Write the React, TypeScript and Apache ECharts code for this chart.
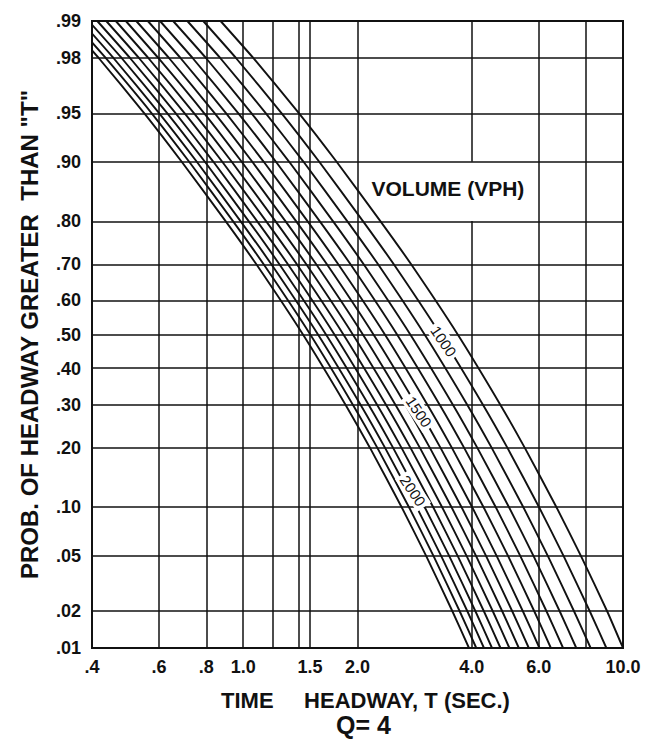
import React, { useEffect, useRef } from "react";
import * as echarts from "echarts";

// Probability levels (P of headway greater than T) at which each curve was read
const probLevels = [0.99, 0.98, 0.95, 0.9, 0.8, 0.7, 0.5, 0.3, 0.2, 0.1, 0.05, 0.02, 0.01];

// Time headway T (sec) at the probability levels above
const volumes = [900, 1000, 1100, 1200, 1300, 1400, 1500, 1600, 1700, 1800, 1900, 2000, 2100, 2200, 2300];
const h900 = [0.872, 1.062, 1.4, 1.762, 2.297, 2.763, 3.672, 4.762, 5.515, 6.681, 7.754, 9.084, 10.0];
const h1000 = [0.785, 0.956, 1.26, 1.586, 2.067, 2.487, 3.305, 4.286, 4.964, 6.013, 6.979, 8.176, 9.041];
const h1100 = [0.713, 0.869, 1.145, 1.442, 1.879, 2.261, 3.004, 3.896, 4.512, 5.466, 6.344, 7.432, 8.219];
const h1200 = [0.654, 0.797, 1.05, 1.322, 1.723, 2.072, 2.754, 3.572, 4.136, 5.011, 5.816, 6.813, 7.534];
const h1300 = [0.604, 0.735, 0.969, 1.22, 1.59, 1.913, 2.542, 3.297, 3.818, 4.625, 5.368, 6.289, 6.954];
const h1400 = [0.561, 0.683, 0.9, 1.133, 1.477, 1.776, 2.361, 3.061, 3.545, 4.295, 4.985, 5.84, 6.458];
const h1500 = [0.523, 0.637, 0.84, 1.057, 1.378, 1.658, 2.203, 2.857, 3.309, 4.009, 4.652, 5.45, 6.027];
const h1600 = [0.491, 0.597, 0.788, 0.991, 1.292, 1.554, 2.066, 2.679, 3.102, 3.758, 4.362, 5.11, 5.65];
const h1700 = [0.462, 0.562, 0.741, 0.933, 1.216, 1.463, 1.944, 2.521, 2.92, 3.537, 4.105, 4.809, 5.318];
const h1800 = [0.436, 0.531, 0.7, 0.881, 1.149, 1.382, 1.836, 2.381, 2.758, 3.341, 3.877, 4.542, 5.023];
const h1900 = [0.413, 0.503, 0.663, 0.835, 1.088, 1.309, 1.739, 2.256, 2.612, 3.165, 3.673, 4.303, 4.758];
const h2000 = [0.392, 0.478, 0.63, 0.793, 1.034, 1.243, 1.652, 2.143, 2.482, 3.006, 3.489, 4.088, 4.52];
const h2100 = [0.374, 0.455, 0.6, 0.755, 0.984, 1.184, 1.574, 2.041, 2.364, 2.863, 3.323, 3.893, 4.305];
const h2200 = [0.357, 0.434, 0.573, 0.721, 0.94, 1.13, 1.502, 1.948, 2.256, 2.733, 3.172, 3.716, 4.109];
const h2300 = [0.341, 0.416, 0.548, 0.689, 0.899, 1.081, 1.437, 1.863, 2.158, 2.614, 3.034, 3.555, 3.931];
const headways = [h900, h1000, h1100, h1200, h1300, h1400, h1500, h1600, h1700, h1800, h1900, h2000, h2100, h2200, h2300];

// Axis ticks and grid
const xTickValues = [0.4, 0.6, 0.8, 1.0, 1.5, 2.0, 4.0, 6.0, 10.0];
const xTickLabels = [".4", ".6", ".8", "1.0", "1.5", "2.0", "4.0", "6.0", "10.0"];
const xGridValues = [0.6, 0.8, 1.0, 1.2, 1.4, 1.5, 2.0, 6.0, 8.0];
const yTickValues = [0.99, 0.98, 0.95, 0.9, 0.8, 0.7, 0.6, 0.5, 0.4, 0.3, 0.2, 0.1, 0.05, 0.02, 0.01];
const yTickLabels = [".99", ".98", ".95", ".90", ".80", ".70", ".60", ".50", ".40", ".30", ".20", ".10", ".05", ".02", ".01"];
const yGridValues = [0.98, 0.95, 0.9, 0.8, 0.7, 0.6, 0.5, 0.4, 0.3, 0.2, 0.1, 0.05, 0.02];

// In-line curve labels
const curveLabelText = ["1000", "1500", "2000"];
const curveLabelT = [3.37, 2.9, 2.8];
const curveLabelP = [0.48, 0.283, 0.123];

const FONT = "'Liberation Sans', Arial, sans-serif";
const INK = "#111";

// inverse standard normal CDF (probability paper scale)
function probit(p: number): number {
  const a = [-3.969683028665376e1, 2.209460984245205e2, -2.759285104469687e2, 1.38357751867269e2, -3.066479806614716e1, 2.506628277459239];
  const b = [-5.447609879822406e1, 1.615858368580409e2, -1.556989798598866e2, 6.680131188771972e1, -1.328068155288572e1];
  const c = [-7.784894002430293e-3, -3.223964580411365e-1, -2.400758277161838, -2.549732539343734, 4.374664141464968, 2.938163982698783];
  const d = [7.784695709041462e-3, 3.224671290700398e-1, 2.445134137142996, 3.754408661907416];
  const pl = 0.02425;
  if (p < pl) {
    const q = Math.sqrt(-2 * Math.log(p));
    return (((((c[0] * q + c[1]) * q + c[2]) * q + c[3]) * q + c[4]) * q + c[5]) / ((((d[0] * q + d[1]) * q + d[2]) * q + d[3]) * q + 1);
  }
  if (p <= 1 - pl) {
    const q = p - 0.5;
    const r = q * q;
    return ((((((a[0] * r + a[1]) * r + a[2]) * r + a[3]) * r + a[4]) * r + a[5]) * q) / (((((b[0] * r + b[1]) * r + b[2]) * r + b[3]) * r + b[4]) * r + 1);
  }
  const q = Math.sqrt(-2 * Math.log(1 - p));
  return -(((((c[0] * q + c[1]) * q + c[2]) * q + c[3]) * q + c[4]) * q + c[5]) / ((((d[0] * q + d[1]) * q + d[2]) * q + d[3]) * q + 1);
}

const Y_MIN = probit(0.01);
const Y_MAX = probit(0.99);

function nearestLabel(v: number, values: number[], labels: string[], tf: (x: number) => number) {
  let best = 0;
  let bd = Infinity;
  values.forEach((val, i) => {
    const dd = Math.abs(tf(val) - v);
    if (dd < bd) {
      bd = dd;
      best = i;
    }
  });
  return labels[best];
}

export default function App() {
  const ref = useRef<HTMLDivElement>(null);
  useEffect(() => {
    if (!ref.current) return;
    const chart = echarts.init(ref.current, undefined, { renderer: "svg" });

    const curveSeries = headways.map((h, k) => ({
      type: "line",
      name: String(volumes[k]),
      data: probLevels.map((p, i) => [h[i], probit(p)]),
      symbol: "none",
      showSymbol: false,
      smooth: 0.15,
      clip: true,
      silent: true,
      z: 3,
      lineStyle: { color: INK, width: 1.9 },
    }));

    const option: any = {
      animation: false,
      backgroundColor: "#fff",
      title: [
        {
          text: "TIME     HEADWAY, T (SEC.)",
          left: 216,
          top: 684,
          textStyle: { fontFamily: FONT, fontSize: 22, fontWeight: "bold", color: INK },
        },
        {
          text: "Q= 4",
          left: 331,
          top: 707,
          textStyle: { fontFamily: FONT, fontSize: 25, fontWeight: "bold", color: INK },
        },
      ],
      grid: {
        left: 92,
        right: 33,
        top: 21,
        bottom: 97,
        show: true,
        borderColor: INK,
        borderWidth: 2,
        backgroundColor: "transparent",
      },
      xAxis: {
        type: "log",
        logBase: 10,
        min: 0.4,
        max: 10,
        axisLine: { show: false },
        axisTick: { show: false },
        splitLine: { show: false },
        axisLabel: {
          customValues: xTickValues,
          margin: 10,
          fontFamily: FONT,
          fontSize: 18,
          fontWeight: "bold",
          color: INK,
          formatter: (v: number) => nearestLabel(Math.log10(v), xTickValues, xTickLabels, (x) => Math.log10(x)),
        },
      },
      yAxis: {
        type: "value",
        min: Y_MIN,
        max: Y_MAX,
        name: 'PROB. OF HEADWAY GREATER  THAN "T"',
        nameLocation: "middle",
        nameRotate: 90,
        nameGap: 51,
        nameTextStyle: { fontFamily: FONT, fontSize: 24, fontWeight: "bold", color: INK },
        axisLine: { show: false },
        axisTick: { show: false },
        splitLine: { show: false },
        axisLabel: {
          customValues: yTickValues.map(probit),
          margin: 11,
          fontFamily: FONT,
          fontSize: 18,
          fontWeight: "bold",
          color: INK,
          formatter: (v: number) => nearestLabel(v, yTickValues, yTickLabels, probit),
        },
      },
      series: [
        {
          type: "line",
          name: "grid",
          data: [],
          silent: true,
          z: 1,
          markLine: {
            silent: true,
            symbol: ["none", "none"],
            animation: false,
            label: { show: false },
            lineStyle: { color: INK, width: 1.5, type: "solid", opacity: 1 },
            emphasis: { disabled: true },
            data: [
              ...xGridValues.map((v) => ({ xAxis: v })),
              [{ coord: [4, Y_MAX] }, { coord: [4, probit(0.9)] }],
              [{ coord: [4, probit(0.8)] }, { coord: [4, Y_MIN] }],
              ...yGridValues.map((p) => ({ yAxis: probit(p) })),
            ],
          },
        },
        ...curveSeries,
        {
          type: "scatter",
          name: "curveLabels",
          symbolSize: 0,
          silent: true,
          z: 10,
          itemStyle: { opacity: 1 },
          data: curveLabelText.map((t, i) => ({
            value: [curveLabelT[i], probit(curveLabelP[i])],
            label: { formatter: t },
          })),
          label: {
            show: true,
            position: "inside",
            rotate: -56,
            fontFamily: FONT,
            fontSize: 15,
            color: INK,
            opacity: 1,
            backgroundColor: "#fff",
            padding: [1, 3],
          },
        },
        {
          type: "scatter",
          name: "volumeTitle",
          symbolSize: 0,
          silent: true,
          z: 10,
          itemStyle: { opacity: 1 },
          data: [{ value: [3.46, probit(0.861)] }],
          label: {
            show: true,
            position: "inside",
            formatter: "VOLUME (VPH)",
            fontFamily: FONT,
            fontSize: 21,
            fontWeight: "bold",
            color: INK,
            opacity: 1,
          },
        },
      ],
    };
    chart.setOption(option);
    return () => chart.dispose();
  }, []);

  return (
    <div
      ref={ref}
      style={{ position: "fixed", left: 0, top: 0, width: 656, height: 745, background: "#fff" }}
    />
  );
}
